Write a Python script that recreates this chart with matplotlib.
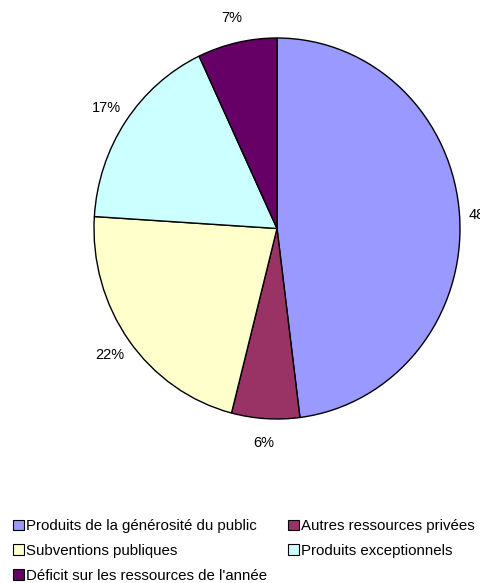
import matplotlib.pyplot as plt
from matplotlib.patches import Patch

labels = [
    "Produits de la générosité du public",
    "Autres ressources privées",
    "Subventions publiques",
    "Produits exceptionnels",
    "Déficit sur les ressources de l'année",
]
values = [48, 6, 22, 17, 7]
colors = ["#9999FF", "#993366", "#FFFFCC", "#CCFFFF", "#660066"]

W, H = 481, 583
fig = plt.figure(figsize=(W / 100, H / 100), dpi=100)
plt.rcParams["font.family"] = ["Liberation Sans", "DejaVu Sans"]

# pie area in pixels (slightly taller than wide, like the original)
left, right, top, bottom = 94, 460, 38, 419
ax = fig.add_axes([left / W, (H - bottom) / H, (right - left) / W, (bottom - top) / H])
wedges, _, autotexts = ax.pie(
    values,
    colors=colors,
    startangle=90,
    counterclock=False,
    autopct="%1.0f%%",
    pctdistance=1.13,
    wedgeprops=dict(edgecolor="black", linewidth=1),
    textprops=dict(fontsize=10.5),
)
ax.set_aspect("auto")
ax.set_xlim(-1, 1)
ax.set_ylim(-1, 1)
for t in autotexts:
    t.set_clip_on(False)

order = [0, 2, 4, 1, 3]
handles = [Patch(facecolor=colors[i], edgecolor="black", linewidth=0.8) for i in order]
fig.legend(
    handles,
    [labels[i] for i in order],
    ncol=2,
    loc="upper left",
    bbox_to_anchor=(7 / W, (H - 513) / H),
    frameon=False,
    fontsize=10.8,
    handlelength=0.75,
    handleheight=0.7,
    handletextpad=0.1,
    columnspacing=1.4,
    labelspacing=0.72,
    borderaxespad=0,
)

fig.savefig("out.png", dpi=100)
